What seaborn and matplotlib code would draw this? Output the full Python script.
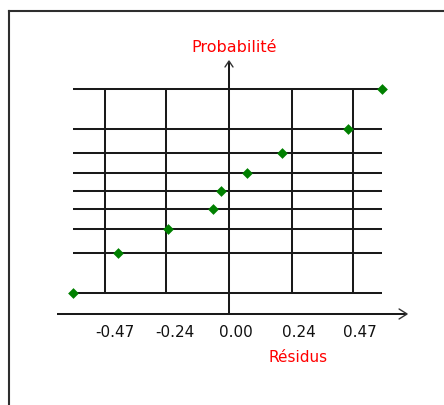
import matplotlib
matplotlib.use("Agg")
import matplotlib.pyplot as plt
from matplotlib.lines import Line2D
from matplotlib.transforms import offset_copy
import seaborn as sns
import pandas as pd

# Residuals sorted, with their normal scores (probability axis)
residuals = [-0.59, -0.42, -0.23, -0.06, -0.03, 0.07, 0.20, 0.45, 0.58]
normal_scores = [-1.59, -0.97, -0.59, -0.28, 0.00, 0.28, 0.59, 0.97, 1.59]
tick_values = [-0.47, -0.24, 0.00, 0.24, 0.47]
tick_labels = ["-0.47", "-0.24", "0.00", "0.24", "0.47"]

df = pd.DataFrame({"Résidus": residuals, "Probabilité": normal_scores})

sns.set_style("white")
plt.rcParams["font.family"] = ["DejaVu Sans"]

W, H, DPI = 444, 405, 100
fig = plt.figure(figsize=(W / DPI, H / DPI), dpi=DPI)
ax = fig.add_axes([0, 0, 1, 1])
ax.set_xlim(-0.868, 0.815)
ax.set_ylim(-3.345, 2.983)
ax.axis("off")

line_col = "#1a1a1a"
lw = 1.45

# grid: one horizontal line per observation, vertical lines at the ticks
x_lo, x_hi = min(residuals), max(residuals)
y_lo, y_hi = min(normal_scores), max(normal_scores)
ax.hlines(normal_scores, x_lo, x_hi, color=line_col, lw=lw, zorder=1)
ax.vlines([t for t in tick_values if t != 0], y_lo, y_hi,
          color=line_col, lw=lw, zorder=1)

# residual axis and probability axis with open arrow heads
axis_y = -1.923
x_start, x_end = -0.653, 0.675
y_top = 2.03
ax.plot([x_start, x_end], [axis_y, axis_y], color=line_col, lw=lw, zorder=1,
        solid_capstyle="butt")
ax.plot([0, 0], [axis_y, y_top], color=line_col, lw=lw, zorder=1,
        solid_capstyle="butt")

px_x = 1 / 263.8   # data units per pixel, horizontally
px_y = 1 / 64.0    # data units per pixel, vertically
ax.plot([x_end - 8 * px_x, x_end, x_end - 8 * px_x],
        [axis_y + 5 * px_y, axis_y, axis_y - 5 * px_y],
        color="#333333", lw=1.0, zorder=1)
ax.plot([-4 * px_x, 0, 4 * px_x],
        [y_top - 6 * px_y, y_top, y_top - 6 * px_y],
        color="#333333", lw=1.0, zorder=1)

# points
sns.scatterplot(data=df, x="Résidus", y="Probabilité", ax=ax, marker="D",
                s=30, color="#008000", linewidth=0, zorder=3, legend=False)
ax.axis("off")

# tick labels below the residual axis
lab_tr = offset_copy(ax.transData, fig=fig, x=-10, y=-19, units="dots")
for t, lab in zip(tick_values, tick_labels):
    ax.text(t, axis_y, lab, transform=lab_tr, ha="left", va="center",
            fontsize=11, color="#111111")

fig.text(298 / W, 1 - 357 / H, "Résidus", color="red", fontsize=11,
         ha="center", va="center")
fig.text(234 / W, 1 - 47 / H, "Probabilité", color="red", fontsize=11.5,
         ha="center", va="center")

# outer frame (top and left edges visible)
fl, ft = 9 / W, 1 - 10.5 / H
fig.add_artist(Line2D([fl, fl], [0, ft], transform=fig.transFigure,
                      color="#2e2e2e", lw=1.5, solid_capstyle="projecting"))
fig.add_artist(Line2D([fl, 1], [ft, ft], transform=fig.transFigure,
                      color="#2e2e2e", lw=1.5, solid_capstyle="projecting"))

fig.savefig("out.png", dpi=DPI)
